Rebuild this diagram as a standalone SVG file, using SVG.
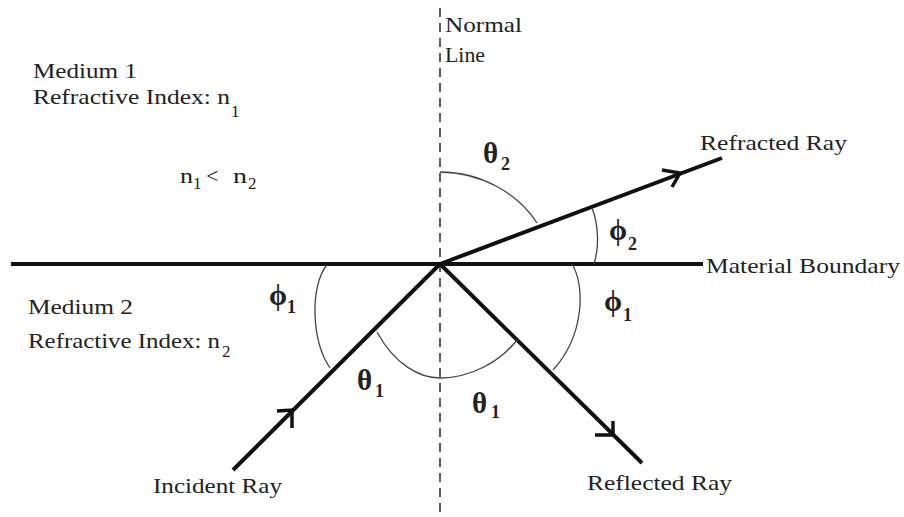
<svg xmlns="http://www.w3.org/2000/svg" width="904" height="517" viewBox="0 0 904 517">
<style>
text{fill:#222}
.lbl{font-size:22px}
.sub{font-size:17px}
.gr{font-size:29px;font-weight:bold}
.grs{font-size:18px;font-weight:bold}
.ray{stroke:#111;stroke-width:4;fill:none;stroke-linecap:butt}
.head{stroke:#111;stroke-width:3.5;fill:none;stroke-linecap:butt;stroke-linejoin:miter}
.arc{stroke:#444;stroke-width:1.3;fill:none}
</style>
<rect width="904" height="517" fill="#fff"/>
<g font-family="Liberation Serif, Times New Roman, serif">
<g id="normal-line">
<line x1="440" y1="8" x2="440" y2="517" stroke="#333" stroke-width="1.6" stroke-dasharray="9 6"/>
<text class="lbl" x="445" y="32" textLength="77" lengthAdjust="spacingAndGlyphs">Normal</text>
<text class="lbl" x="445" y="62" textLength="40" lengthAdjust="spacingAndGlyphs">Line</text>
</g>
<g id="boundary">
<line x1="11" y1="264" x2="703" y2="264" stroke="#111" stroke-width="4"/>
<text class="lbl" x="706" y="273" textLength="194" lengthAdjust="spacingAndGlyphs">Material Boundary</text>
</g>
<g id="medium1">
<text class="lbl" x="33" y="78" textLength="104" lengthAdjust="spacingAndGlyphs">Medium 1</text>
<text class="lbl" x="33" y="104" textLength="197" lengthAdjust="spacingAndGlyphs">Refractive Index: n</text>
<text class="sub" x="231" y="117">1</text>
<text class="lbl" x="180" y="183" textLength="13" lengthAdjust="spacingAndGlyphs">n</text>
<text class="sub" x="193" y="189">1</text>
<text class="lbl" x="206" y="183">&lt;</text>
<text class="lbl" x="233" y="183" textLength="14" lengthAdjust="spacingAndGlyphs">n</text>
<text class="sub" x="248" y="189">2</text>
</g>
<g id="medium2">
<text class="lbl" x="28" y="314" textLength="105" lengthAdjust="spacingAndGlyphs">Medium 2</text>
<text class="lbl" x="28" y="348" textLength="192" lengthAdjust="spacingAndGlyphs">Refractive Index: n</text>
<text class="sub" x="222" y="357">2</text>
</g>
<g id="connectors">
<g id="incident-ray">
<line class="ray" x1="233" y1="470" x2="440" y2="264"/>
<polyline class="head" points="277,411 292,410 292,428"/>
<text class="lbl" x="153" y="493" textLength="129" lengthAdjust="spacingAndGlyphs">Incident Ray</text>
</g>
<g id="reflected-ray">
<line class="ray" x1="440" y1="264" x2="642" y2="463"/>
<polyline class="head" points="595,435 613,435 613,421"/>
<text class="lbl" x="587" y="490" textLength="145" lengthAdjust="spacingAndGlyphs">Reflected Ray</text>
</g>
<g id="refracted-ray">
<line class="ray" x1="440" y1="264" x2="722" y2="158"/>
<polyline class="head" points="662,170 680,173 672,187"/>
<text class="lbl" x="700" y="150" textLength="147" lengthAdjust="spacingAndGlyphs">Refracted Ray</text>
</g>
</g>
<g id="angles">
<path class="arc" d="M440,172 C480,172 518,193 537,223"/>
<path class="arc" d="M592,208 C599,226 599,248 594,264"/>
<path class="arc" d="M572,264 C585,285 585,335 553,370"/>
<path class="arc" d="M377,332 C395,365 420,378 440,378 C470,378 500,362 517,340"/>
<path class="arc" d="M327,265 C310,285 311,340 330,368"/>
<text class="gr" x="483" y="163">θ</text><text class="grs" x="501" y="170">2</text>
<text class="gr" x="609" y="240">ϕ</text><text class="grs" x="628" y="250">2</text>
<text class="gr" x="269" y="305">ϕ</text><text class="grs" x="287" y="313">1</text>
<text class="gr" x="604" y="311">ϕ</text><text class="grs" x="623" y="321">1</text>
<text class="gr" x="357" y="390">θ</text><text class="grs" x="375" y="397">1</text>
<text class="gr" x="472" y="413">θ</text><text class="grs" x="491" y="418">1</text>
</g>
</g>
</svg>
